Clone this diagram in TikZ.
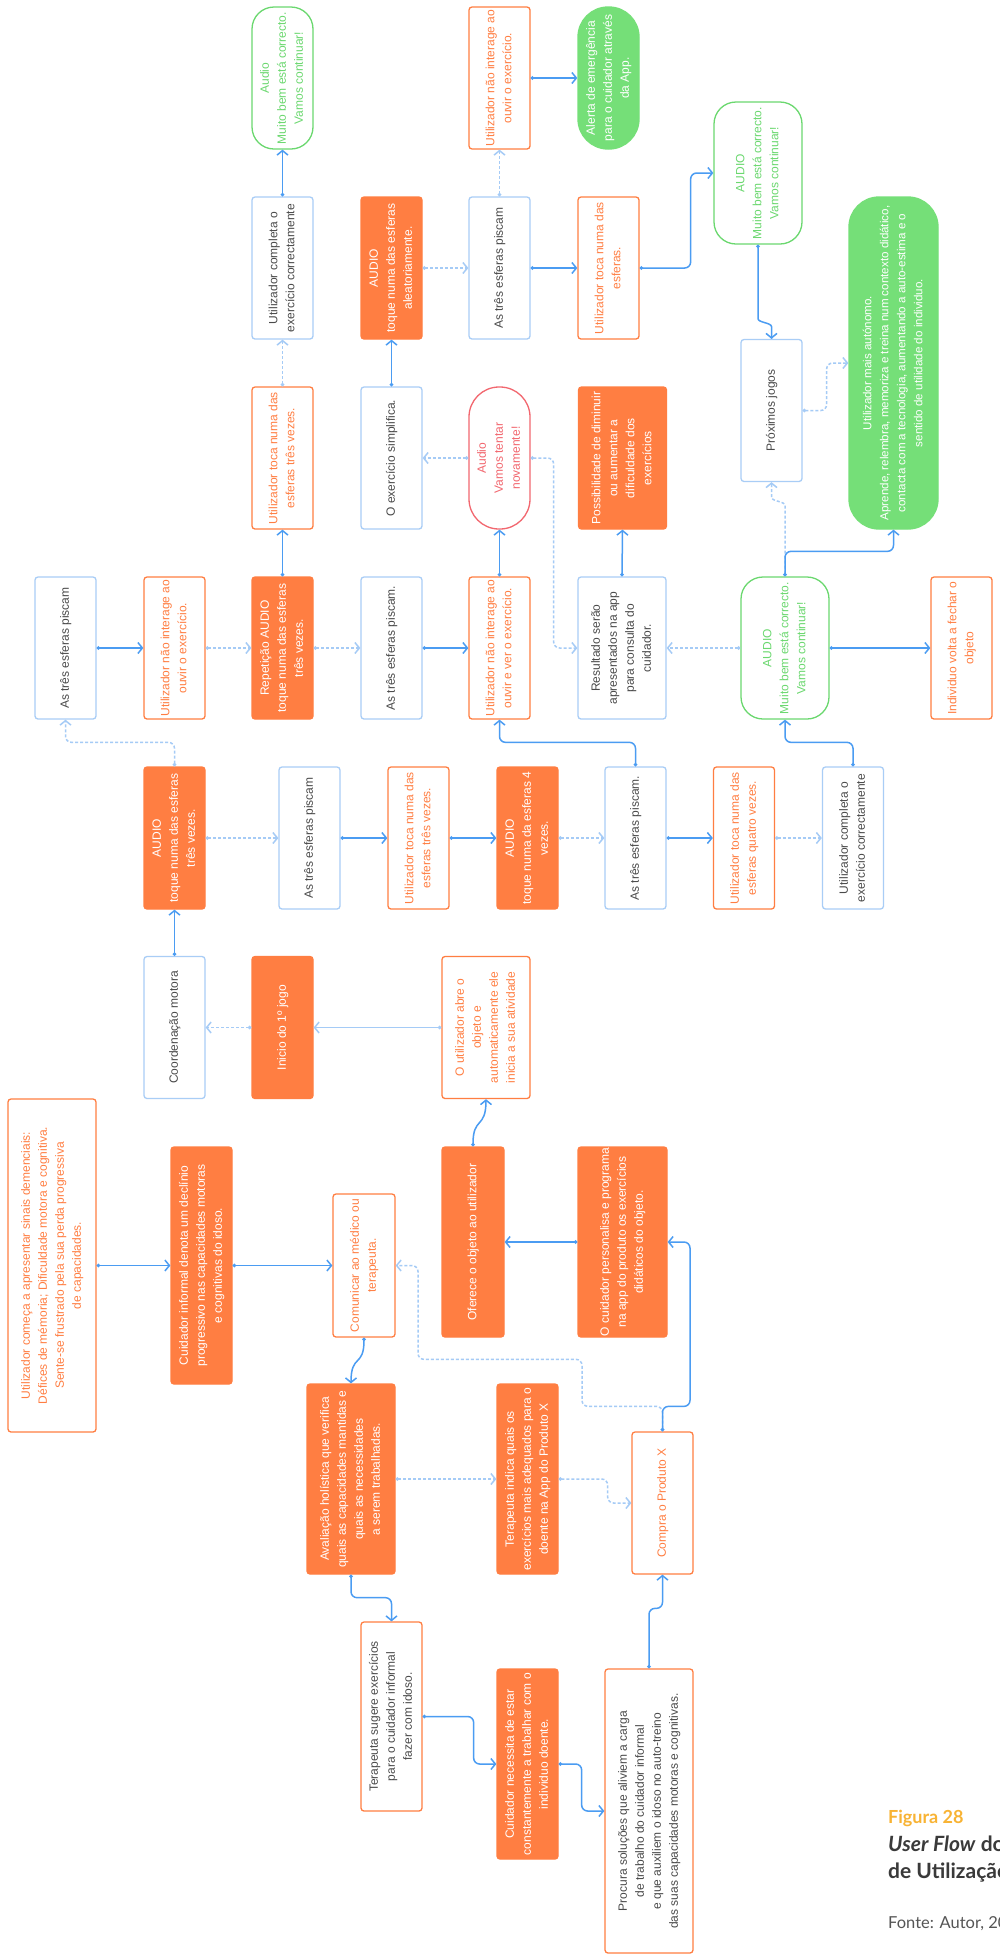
\documentclass[tikz,border=0pt]{standalone}
\usepackage{fontspec}
\setmainfont{Liberation Sans}
\newfontfamily\capfont{Lato}
\usetikzlibrary{arrows.meta}
\definecolor{orng}{HTML}{FF7E42}
\definecolor{lblue}{HTML}{A9CDF6}
\definecolor{dgray}{HTML}{4A4A4A}
\definecolor{grn}{HTML}{75DF78}
\definecolor{grnt}{HTML}{6BD86F}
\definecolor{redc}{HTML}{F2676F}
\definecolor{cSol}{HTML}{4B9CF2}
\definecolor{cDot}{HTML}{A5CBF6}
\definecolor{gold}{HTML}{F8B334}
\definecolor{capdark}{HTML}{3A3A3A}
\definecolor{capgray}{HTML}{555555}
\newcommand\rt[1]{\rotatebox{90}{\begin{tabular}{@{}c@{}}#1\end{tabular}}}
\begin{document}
\begin{tikzpicture}[x=1pt,y=-1pt,
  bx/.style={rectangle, rounded corners=3, line width=1.3, inner sep=0,
    font=\fontsize{12}{17}\selectfont},
  boxO/.style={bx, draw=orng, fill=white, text=orng},
  boxOD/.style={bx, draw=orng, fill=white, text=dgray},
  boxOF/.style={bx, draw=orng, fill=orng, text=white},
  boxB/.style={bx, draw=lblue, fill=white, text=dgray},
  boxG/.style={bx, draw=grnt, fill=white, text=grnt, rounded corners=22},
  boxGF/.style={bx, draw=grn, fill=grn, text=white, rounded corners=30},
  boxR/.style={bx, draw=redc, fill=white, text=redc, rounded corners=30},
  sz/.style={minimum width=61, minimum height=142},
  wz/.style={minimum width=88, minimum height=142},
  sol/.style={draw=cSol, line width=1.5, rounded corners=6,
    arrows={Circle[length=3.5pt]-Straight Barb[length=4.5pt,width=11pt]}},
  lsol/.style={draw=cDot, line width=1.5, rounded corners=6,
    arrows={Circle[length=3.5pt]-Straight Barb[length=4.5pt,width=11pt]}},
  dot/.style={draw=cDot, line width=1.5, rounded corners=6, dash pattern=on 3pt off 2pt,
    arrows={Circle[length=3.5pt]-Straight Barb[length=4.5pt,width=11pt]}},
]
\clip (0,0) rectangle (1000,1955);
\fill[white] (0,0) rectangle (1000,1955);

% Row A
\node[boxG, sz] (aud1) at (282.5,78) {\rt{Audio\\Muito bem está correcto.\\Vamos continuar!}};
\node[boxO, sz] (nao1) at (499.5,78) {\rt{Utilizador não interage ao\\ouvir o exercício.}};
\node[boxGF, sz] (alerta) at (608.5,78) {\rt{Alerta de emergência\\para o cuidador através\\da App.}};

% Row B
\node[boxB, sz] (comp1) at (282.5,268) {\rt{Utilizador completa o\\exercício correctamente}};
\node[boxOF, sz] (audAle) at (391.5,268) {\rt{AUDIO\\toque numa das esferas\\aleatoriamente.}};
\node[boxB, sz] (esf1) at (499.5,268) {\rt{As três esferas piscam}};
\node[boxO, sz] (toca1) at (608.5,268) {\rt{Utilizador toca numa das\\esferas.}};
\node[boxG, wz] (aud2) at (758,173) {\rt{AUDIO\\Muito bem está correcto.\\Vamos continuar!}};

% Row C
\node[boxO, sz] (toca3a) at (282.5,458) {\rt{Utilizador toca numa das\\esferas três vezes.}};
\node[boxB, sz] (simpl) at (391.5,458) {\rt{O exercício simplifica.}};
\node[boxR, sz] (tentar) at (499.5,458) {\rt{Audio\\Vamos tentar\\novamente!}};
\node[boxOF, wz] (possib) at (622.5,458) {\rt{Possibilidade de diminuir\\ou aumentar a\\dificuldade dos\\exercícios}};
\node[boxB, sz] (prox) at (771.5,410.5) {\rt{Próximos jogos}};
\node[boxGF, minimum width=89, minimum height=332, font=\fontsize{11.6}{17}\selectfont] (auton) at (893.5,363) {\rt{Utilizador mais autónomo.\\Aprende, relembra, memoriza e treina num contexto didático,\\contacta com a tecnologia, aumentando a auto-estima e o\\sentido de utilidade do individuo.}};

% Row D
\node[boxB, sz] (esf2) at (65.5,648) {\rt{As três esferas piscam}};
\node[boxO, sz] (nao2) at (174.5,648) {\rt{Utilizador não interage ao\\ouvir o exercício.}};
\node[boxOF, sz] (rep) at (282.5,648) {\rt{Repetição AUDIO\\toque numa das esferas\\três vezes.}};
\node[boxB, sz] (esf3) at (391.5,648) {\rt{As três esferas piscam.}};
\node[boxO, sz] (nao3) at (499.5,648) {\rt{Utilizador não interage ao\\ouvir e ver o exercício.}};
\node[boxB, wz] (result) at (622,648) {\rt{Resultado serão\\apresentados na app\\para consulta do\\cuidador.}};
\node[boxG, wz] (aud3) at (785,648) {\rt{AUDIO\\Muito bem está correcto.\\Vamos continuar!}};
\node[boxO, sz] (volta) at (961.5,648) {\rt{Individuo volta a fechar o\\objeto}};

% Row E
\node[boxOF, sz] (audT) at (174.5,838) {\rt{AUDIO\\toque numa das esferas\\três vezes.}};
\node[boxB, sz] (esf4) at (309.5,838) {\rt{As três esferas piscam}};
\node[boxO, sz] (toca3b) at (418.5,838) {\rt{Utilizador toca numa das\\esferas três vezes.}};
\node[boxOF, sz] (aud4) at (527.5,838) {\rt{AUDIO\\toque numa da esferas 4\\vezes.}};
\node[boxB, sz] (esf5) at (635.5,838) {\rt{As três esferas piscam.}};
\node[boxO, sz] (toca4) at (744,838) {\rt{Utilizador toca numa das\\esferas quatro vezes.}};
\node[boxB, sz] (comp2) at (853,838) {\rt{Utilizador completa o\\exercício correctamente}};

% Row F
\node[boxB, sz] (coord) at (174.5,1027.5) {\rt{Coordenação motora}};
\node[boxOF, sz] (inicio) at (282.5,1027.5) {\rt{Inicio do 1º jogo}};
\node[boxO, wz] (abre) at (486,1027.5) {\rt{O utilizador abre o\\objeto e\\automaticamente ele\\inicia a sua atividade}};

% Lower part
\node[boxO, minimum width=88, minimum height=333] (comeca) at (52,1265.5) {\rt{Utilizador começa a apresentar sinais demenciais:\\Défices de mémoria; Dificuldade motora e cognitiva.\\Sente-se frustrado pela sua perda progressiva\\de capacidades.}};
\node[boxOF, minimum width=61, minimum height=237] (cuid) at (201.5,1265.5) {\rt{Cuidador informal denota um declínio\\progressivo nas capacidades motoras\\e cognitivas do idoso.}};
\node[boxO, minimum width=62, minimum height=143] (comun) at (364,1265.5) {\rt{Comunicar ao médico ou\\terapeuta.}};
\node[boxOF, minimum width=62, minimum height=190] (oferece) at (473,1242) {\rt{Oferece o objeto ao utilizador}};
\node[boxOF, minimum width=89, minimum height=190] (person) at (622.5,1242) {\rt{O cuidador personalisa e programa\\na app do produto os exercícios\\didáticos do objeto.}};
\node[boxOF, minimum width=88, minimum height=190] (aval) at (351,1479) {\rt{Avaliação holística que verifica\\quais as capacidades mantidas e\\quais as necessidades\\a serem trabalhadas.}};
\node[boxOF, minimum width=61, minimum height=190] (indica) at (527.5,1479) {\rt{Terapeuta indica quais os\\exercícios mais adequados para o\\doente na App do Produto X}};
\node[boxO, sz] (compra) at (662.5,1503) {\rt{Compra o Produto X}};
\node[boxOD, minimum width=61, minimum height=189] (sugere) at (391.5,1716.5) {\rt{Terapeuta sugere exercícios\\para o cuidador informal\\fazer com idoso.}};
\node[boxOF, minimum width=61, minimum height=190] (necess) at (527.5,1764) {\rt{Cuidador necessita de estar\\constantemente a trabalhar com o\\individuo doente.}};
\node[boxOD, minimum width=88, minimum height=284] (procura) at (649,1811) {\rt{Procura soluções que aliviem a carga\\de trabalho do cuidador informal\\e que auxiliem o idoso no auto-treino\\das suas capacidades motoras e cognitivas.}};

% Caption
\node[anchor=base west, inner sep=0, text=gold, font=\capfont\bfseries\fontsize{18}{22}\selectfont] (fig) at (888,1823) {Figura 28};
\node[anchor=base west, inner sep=0, text=capdark, font=\capfont\bfseries\fontsize{21}{25}\selectfont] (cap1) at (888,1851) {\textit{User Flow} do Cenário};
\node[anchor=base west, inner sep=0, text=capdark, font=\capfont\bfseries\fontsize{21}{25}\selectfont] (cap2) at (888,1878) {de Utilização};
\node[anchor=base west, inner sep=0, text=capgray, font=\capfont\fontsize{16.5}{20}\selectfont] (fonte) at (888,1928) {Fonte: Autor, 2019};

% Connectors (lower part)
\draw[sol] (comeca.east) -- (cuid.west);
\draw[sol] (cuid.east) -- (comun.west);
\draw[sol] (comun.south) .. controls +(0,30) and +(0,-30) .. (aval.north);
\draw[sol] (aval.south) -- ++(0,23) -| (sugere.north);
\draw[dot] (aval.east) -- (indica.west);
\draw[dot] (indica.east) -- ++(49,0) |- (compra.west);
\draw[sol] (sugere.east) -- ++(51,0) |- (necess.west);
\draw[sol] (necess.east) -- ++(23,0) |- (procura.west);
\draw[sol] (procura.north) -- ++(0,-60) -| (compra.south);
\draw[dot] (compra.north) -- ++(0,-25) -- ++(-80.5,0) -- ++(0,-47) -- ++(-164,0) |- (comun.east);
\draw[sol] (compra.north) -- ++(0,-25) -- ++(27.5,0) |- (person.east);
\draw[sol] (person.west) -- (oferece.east);
\draw[sol] (oferece.north) .. controls +(0,-30) and +(0,30) .. (abre.south);
\draw[lsol] (abre.west) -- (inicio.east);
\draw[dot] (inicio.west) -- (coord.east);
\draw[sol] (coord.north) -- (audT.south);

% Row E
\draw[dot] (audT.north) -- ++(0,-24) -| (esf2.south);
\draw[dot] (audT.east) -- (esf4.west);
\draw[sol] (esf4.east) -- (toca3b.west);
\draw[sol] (toca3b.east) -- (aud4.west);
\draw[dot] (aud4.east) -- (esf5.west);
\draw[sol] (esf5.east) -- (toca4.west);
\draw[dot] (toca4.east) -- (comp2.west);
\draw[sol] (comp2.north) -- ++(0,-24) -| (aud3.south);
\draw[sol] (esf5.north) -- ++(0,-24) -| (nao3.south);

% Row D
\draw[sol] (esf2.east) -- (nao2.west);
\draw[dot] (nao2.east) -- (rep.west);
\draw[dot] (rep.east) -- (esf3.west);
\draw[sol] (rep.north) -- (toca3a.south);
\draw[sol] (esf3.east) -- (nao3.west);
\draw[sol] (nao3.north) -- (tentar.south);
\draw[dot] (tentar.west) -- (simpl.east);
\draw[dot] (tentar.east) -- ++(23,0) |- (result.west);
\draw[sol] (result.north) -- (possib.south);
\draw[dot] (aud3.west) -- (result.east);
\draw[sol] (aud3.east) -- (volta.west);
\draw[dot] (aud3.north) -- ++(0,-65) .. controls +(0,-10) and +(0,10) .. ++(-13.5,-20) -- (prox.south);
\draw[sol] (aud3.north) -- ++(0,-25) -| (auton.south);

% Upper rows
\draw[dot] (prox.east) -- ++(24,0) |- (auton.west);
\draw[sol] (aud2.south) -- ++(0,68) .. controls +(0,10) and +(0,-10) .. ++(13.5,20) -- (prox.north);
\draw[sol] (toca1.east) -- ++(51,0) |- (aud2.west);
\draw[sol] (esf1.east) -- (toca1.west);
\draw[dot] (audAle.east) -- (esf1.west);
\draw[sol] (simpl.north) -- (audAle.south);
\draw[dot] (esf1.north) -- (nao1.south);
\draw[sol] (nao1.east) -- (alerta.west);
\draw[sol] (comp1.north) -- (aud1.south);
\draw[dot] (toca3a.north) -- (comp1.south);
\end{tikzpicture}
\end{document}
